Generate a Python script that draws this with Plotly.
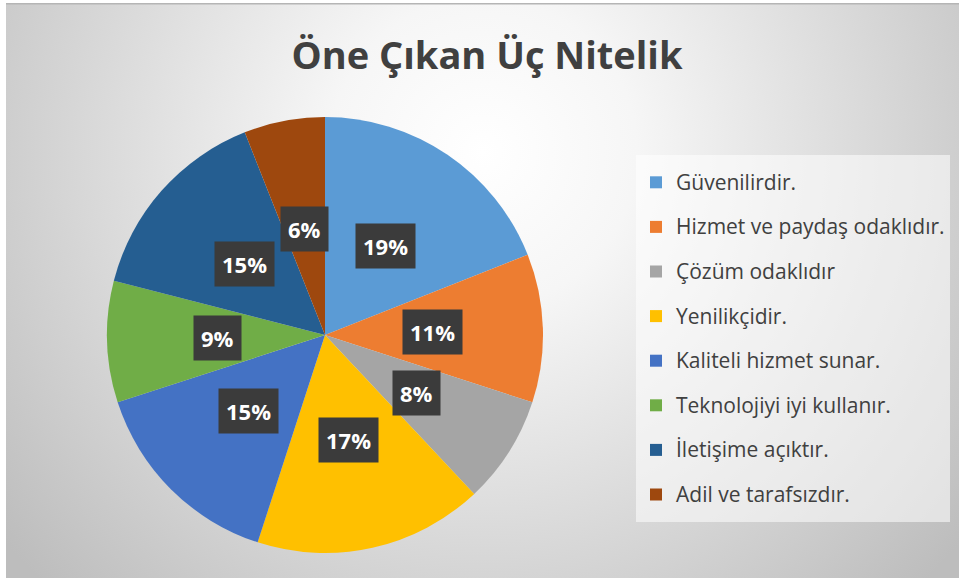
import math, base64
import plotly.graph_objects as go

W, H = 959, 578

title_text = "Öne Çıkan Üç Nitelik"
labels = ["Güvenilirdir.", "Hizmet ve paydaş odaklıdır.", "Çözüm odaklıdır",
          "Yenilikçidir.", "Kaliteli hizmet sunar.", "Teknolojiyi iyi kullanır.",
          "İletişime açıktır.", "Adil ve tarafsızdır."]
values = [19, 11, 8, 17, 15, 9, 15, 6]
colors = ["#5B9BD5", "#ED7D31", "#A5A5A5", "#FFC000",
          "#4472C4", "#70AD47", "#255E91", "#9E480E"]

# pie geometry (pixels)
cx_px, cy_px, R = 325, 335, 218
dom_x = [(cx_px - R) / W, (cx_px + R) / W]
dom_y = [(H - cy_px - R) / H, (H - cy_px + R) / H]

legend_labels = [f"<span style='font-size:21px;baseline-shift:5px'>{l}</span>" for l in labels]

fig = go.Figure()
fig.add_trace(go.Pie(
    labels=legend_labels, values=values, sort=False, direction="clockwise",
    rotation=0, marker=dict(colors=colors, line=dict(width=0)),
    textinfo="none", hoverinfo="percent",
    domain=dict(x=dom_x, y=dom_y),
))

# percentage label boxes
total = sum(values)
cum = 0
annotations = []
for v in values:
    mid = (cum + v / 2) / total * 2 * math.pi
    cum += v
    r = 0.495 * R
    px = cx_px + r * math.sin(mid)
    py = cy_px - r * math.cos(mid)
    pct = round(v / total * 100)
    annotations.append(dict(
        x=px / W, y=1 - py / H, xref="paper", yref="paper",
        text=f"<b>{pct}%</b>", showarrow=False,
        font=dict(family="Open Sans", size=22, color="white"),
        bgcolor="#3b3b3b", borderpad=7, xanchor="center", yanchor="middle",
    ))

svg = f'''<svg xmlns="http://www.w3.org/2000/svg" width="{W}" height="{H}" viewBox="0 0 {W} {H}">
<defs><radialGradient id="g" gradientUnits="userSpaceOnUse" cx="480" cy="150" r="620">
<stop offset="0" stop-color="#ffffff"/><stop offset="0.25" stop-color="#f6f6f6"/>
<stop offset="1" stop-color="#bdbdbd"/></radialGradient></defs>
<rect x="0" y="0" width="{W}" height="{H}" fill="url(#g)"/>
<rect x="0" y="0" width="{W}" height="1.5" fill="#b5b5b5"/>
</svg>'''
src = "data:image/svg+xml;base64," + base64.b64encode(svg.encode()).decode()

fig.update_layout(
    width=W, height=H, margin=dict(l=0, r=0, t=0, b=0),
    paper_bgcolor="white", plot_bgcolor="white",
    images=[dict(source=src, xref="paper", yref="paper", x=6 / W, y=1 - 3 / H,
                 sizex=1 - 6 / W, sizey=1 - 3 / H, sizing="stretch",
                 xanchor="left", yanchor="top", layer="below")],
    title=dict(text=title_text, x=487 / W, y=1 - 56 / H, xanchor="center",
               yanchor="middle", xref="container", yref="container",
               font=dict(family="Open Sans", size=38, color="#404040", weight="bold")),
    legend=dict(x=636 / W, y=1 - 155 / H, xanchor="left", yanchor="top",
                bgcolor="rgba(255,255,255,0.55)", borderwidth=0,
                font=dict(family="Open Sans", size=32, color="#404040"),
                itemclick=False),
    annotations=annotations,
    showlegend=True,
)

fig.write_html("out.html", config={"displayModeBar": False},
               post_script="document.body.style.margin='0';")
